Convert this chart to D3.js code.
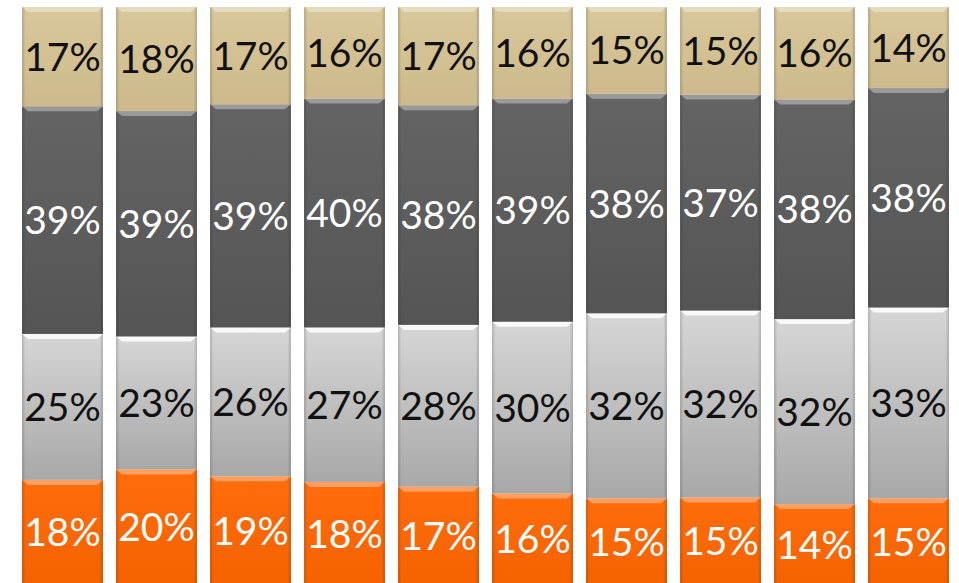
<!DOCTYPE html>
<html>
<head>
<meta charset="utf-8">
<script src="https://cdn.jsdelivr.net/npm/d3@7"></script>
<style>
  body { margin: 0; background: #fff; }
  svg { display: block; }
  .lbl { font-family: Lato, "Open Sans", sans-serif; font-size: 39px; }
</style>
</head>
<body>
<div id="chart"></div>
<script>
// values per bar, bottom to top
var categories = ["1", "2", "3", "4", "5", "6", "7", "8", "9", "10"];
var orange = [18, 20, 19, 18, 17, 16, 15, 15, 14, 15];
var light  = [25, 23, 26, 27, 28, 30, 32, 32, 32, 33];
var dark   = [39, 39, 39, 40, 38, 39, 38, 37, 38, 38];
var tan    = [17, 18, 17, 16, 17, 16, 15, 15, 16, 14];

var seriesNames = ["orange", "light", "dark", "tan"];
var seriesValues = {orange: orange, light: light, dark: dark, tan: tan};

var width = 959, height = 583;

var rows = categories.map(function(c, i) {
    var r = {cat: c};
    seriesNames.forEach(function(s) { r[s] = seriesValues[s][i]; });
    return r;
});

var stack = d3.stack().keys(seriesNames).offset(d3.stackOffsetExpand);
var layers = stack(rows);

var x = d3.scaleBand()
    .domain(categories)
    .range([15.5, 955.5])
    .paddingInner(0.14)
    .paddingOuter(0.07);

var y = d3.scaleLinear()
    .domain([0, 1])
    .range([585, 7]);

// gradient stops: top, bottom
var fills = {
    orange: ["#ff6c0c", "#f56200"],
    light:  ["#d6d6d6", "#a8a8a8"],
    dark:   ["#646464", "#555555"],
    tan:    ["#d9c89c", "#cdb98b"]
};
var textColor = {orange: "#fff", light: "#111", dark: "#fff", tan: "#111"};

var svg = d3.select("#chart")
    .append("svg")
    .attr("width", width)
    .attr("height", height);

var defs = svg.append("defs");
seriesNames.forEach(function(s) {
    var g = defs.append("linearGradient")
        .attr("id", "g_" + s)
        .attr("x1", 0).attr("y1", 0).attr("x2", 0).attr("y2", 1);
    g.append("stop").attr("offset", "0%").attr("stop-color", fills[s][0]);
    g.append("stop").attr("offset", "100%").attr("stop-color", fills[s][1]);
    // side shading
    var h = defs.append("linearGradient")
        .attr("id", "h_" + s)
        .attr("x1", 0).attr("y1", 0).attr("x2", 1).attr("y2", 0);
    h.append("stop").attr("offset", "0%").attr("stop-color", "#000").attr("stop-opacity", 0.18);
    h.append("stop").attr("offset", "4%").attr("stop-color", "#000").attr("stop-opacity", 0);
    h.append("stop").attr("offset", "96%").attr("stop-color", "#000").attr("stop-opacity", 0);
    h.append("stop").attr("offset", "100%").attr("stop-color", "#000").attr("stop-opacity", 0.18);
});

var bw = x.bandwidth();

layers.forEach(function(layer) {
    var s = layer.key;
    var g = svg.append("g").attr("class", "layer-" + s);

    var seg = g.selectAll("g.seg")
        .data(layer)
        .enter()
        .append("g")
        .attr("class", "seg");

    seg.append("rect")
        .attr("x", function(d) { return x(d.data.cat); })
        .attr("y", function(d) { return y(d[1]); })
        .attr("width", bw)
        .attr("height", function(d) { return y(d[0]) - y(d[1]); })
        .style("fill", "url(#g_" + s + ")");

    seg.append("rect")
        .attr("x", function(d) { return x(d.data.cat); })
        .attr("y", function(d) { return y(d[1]); })
        .attr("width", bw)
        .attr("height", function(d) { return y(d[0]) - y(d[1]); })
        .style("fill", "url(#h_" + s + ")");

    // bevel highlight on top edge
    seg.append("path")
        .attr("d", function(d) {
            var x0 = x(d.data.cat), y0 = y(d[1]);
            return "M" + x0 + "," + y0 + "L" + (x0 + bw) + "," + y0 +
                "L" + (x0 + bw - 6) + "," + (y0 + 5) + "L" + (x0 + 6) + "," + (y0 + 5) + "Z";
        })
        .style("fill", "#fff")
        .style("fill-opacity", s == "light" ? 0.85 : 0.35);

    seg.append("text")
        .attr("class", "lbl")
        .attr("x", function(d) { return x(d.data.cat) + bw / 2; })
        .attr("y", function(d) { return (y(d[0]) + y(d[1])) / 2; })
        .attr("dy", "0.36em")
        .style("text-anchor", "middle")
        .style("fill", textColor[s])
        .text(function(d) { return d.data[s] + "%"; });
});
</script>
</body>
</html>
